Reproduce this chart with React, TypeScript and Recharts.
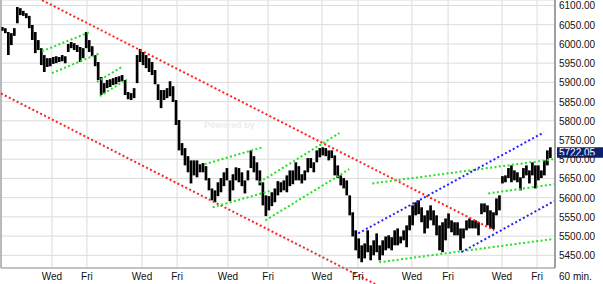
import React from 'react';
import { ComposedChart, Bar, XAxis, YAxis, CartesianGrid, ReferenceLine } from 'recharts';

// hourly bars (index = bar number), highs and lows
const highs = [6044,6041,6031,6028,6041,6096,6093,6086,6080,6073, 6049,6031,6010,5989,5971,5963,5963,5966,5968,5966, 5971,5968,6000,6005,6002,5997,5992,5989,6031,6010, 5994,5971,5953,5914,5898,5906,5908,5911,5914,5916, 5919,5906,5875,5872,5885,5971,5987,5979,5971,5963, 5953,5932,5895,5880,5880,5885,5903,5890,5854,5802, 5742,5729,5708,5697,5697,5697,5687,5690,5682,5651, 5624,5619,5640,5651,5666,5677,5645,5661,5679,5677, 5666,5645,5671,5723,5708,5692,5671,5640,5606,5604, 5614,5624,5643,5640,5645,5658,5671,5671,5692,5682, 5661,5671,5703,5703,5692,5723,5729,5731,5729,5723, 5723,5710,5684,5658,5651,5645,5606,5562,5515,5494, 5476,5481,5515,5476,5489,5507,5476,5489,5499,5502, 5497,5515,5520,5499,5515,5528,5554,5580,5588,5593, 5575,5554,5567,5580,5567,5554,5528,5536,5546,5559, 5541,5536,5536,5520,5520,5541,5546,5541,5541,5536, 5585,5585,5580,5567,5562,5598,5606,5656,5658,5677, 5684,5671,5666,5653,5677,5684,5671,5692,5684,5684, 5671,5697,5723,5731];
const lows = [6034,6028,5971,5997,6021,6054,6075,6073,6067,6041, 6010,5976,5984,5945,5927,5940,5942,5948,5950,5953, 5955,5950,5979,5989,5984,5979,5953,5963,5989,5979, 5968,5942,5906,5867,5872,5885,5888,5893,5895,5901, 5903,5867,5856,5854,5859,5898,5953,5945,5937,5927, 5919,5895,5854,5833,5854,5859,5864,5849,5789,5723, 5710,5684,5666,5637,5658,5653,5666,5666,5645,5619, 5593,5588,5604,5614,5630,5645,5591,5619,5645,5640, 5630,5611,5645,5677,5666,5645,5632,5580,5552,5567, 5578,5588,5606,5614,5619,5614,5630,5635,5645,5645, 5637,5645,5666,5677,5666,5692,5705,5710,5708,5697, 5703,5658,5651,5632,5624,5606,5554,5499,5463,5442, 5432,5442,5458,5437,5450,5458,5437,5450,5463,5468, 5463,5476,5476,5481,5489,5471,5515,5528,5554,5557, 5536,5507,5520,5541,5528,5502,5463,5458,5489,5520, 5510,5502,5502,5463,5494,5515,5520,5520,5520,5502, 5557,5562,5528,5520,5518,5554,5567,5637,5640,5651, 5640,5645,5640,5619,5651,5658,5637,5658,5624,5645, 5651,5658,5684,5703];

const xTickPos = [16.5, 28.2, 46.6, 58.3, 75.3, 88.7, 106.7, 118.7, 136.7, 148.8, 166.8, 178.5];
const xTickLabels = ['Wed', 'Fri', 'Wed', 'Fri', 'Wed', 'Fri', 'Wed', 'Fri', 'Wed', 'Fri', 'Wed', 'Fri'];
const yTicks = [5450, 5500, 5550, 5600, 5650, 5700, 5750, 5800, 5850, 5900, 5950, 6000, 6050, 6100];
const lastPrice = 5722.05;
const periodLabel = '60 min.';

// trend lines: [x1, price1, x2, price2]
const redLines = [
  [13.2, 6114, 164.2, 5515],
  [-0.5, 5871, 124.8, 5374],
];
const greenLines = [
  [13.2, 5981, 29.2, 6031],
  [16.5, 5924, 32.5, 5976],
  [31.5, 5901, 40.2, 5942],
  [32.5, 5864, 41.5, 5908],
  [67.5, 5687, 86.8, 5731],
  [70.2, 5575, 89.2, 5617],
  [85.8, 5640, 112.5, 5768],
  [87.8, 5541, 115.8, 5674],
  [123.5, 5637, 184.2, 5700],
  [162.2, 5611, 184.2, 5635],
  [125.8, 5432, 183.5, 5492],
];
const blueLines = [
  [118.8, 5507, 180.8, 5770],
  [153.2, 5458, 184.2, 5591],
];

const RED = '#ff2020';
const GREEN = '#22e022';
const BLUE = '#2222ff';
const FONT = 'Arial, "Liberation Sans", sans-serif';

const data = highs.map((h, i) => ({ i, range: [lows[i], h] }));

const seg = (s: number[], color: string, key: string) => (
  <ReferenceLine
    key={key}
    segment={[{ x: s[0], y: s[1] }, { x: s[2], y: s[3] }]}
    stroke={color}
    strokeWidth={2}
    strokeDasharray="2 2.4"
    ifOverflow="visible"
  />
);

export default function App() {
  return (
    <div style={{ position: 'absolute', left: 0, top: 0, width: 603, height: 284, background: '#fff' }}>
      <ComposedChart
        width={603}
        height={284}
        data={data}
        margin={{ top: 0, right: 0, bottom: 0, left: 1 }}
      >
        <CartesianGrid stroke="#dcdcdc" />
        <XAxis
          dataKey="i"
          type="number"
          domain={[-0.5, 184.5]}
          allowDataOverflow
          ticks={xTickPos}
          interval={0}
          height={16}
          axisLine={{ stroke: '#999' }}
          tickLine={false}
          tickSize={0}
          tickMargin={0}
          tick={(p: any) => (
            <text x={p.x} y={p.y + 12} textAnchor="middle" fontSize={10} fontFamily={FONT} fill="#111">
              {xTickLabels[xTickPos.indexOf(p.payload.value)]}
            </text>
          )}
          label={(lp: any) => {
            const vb = lp.viewBox || { x: 1, y: 268, width: 554, height: 16 };
            return (
              <text x={vb.x + vb.width + 4} y={vb.y + 12} fontSize={10} fontFamily={FONT} fill="#111">
                {periodLabel}
              </text>
            );
          }}
        />
        <YAxis
          orientation="right"
          type="number"
          domain={[5417, 6114.3]}
          allowDataOverflow
          ticks={yTicks}
          interval={0}
          width={48}
          axisLine={{ stroke: '#555' }}
          tickLine={false}
          tickSize={0}
          tickMargin={4}
          tick={(p: any) => (
            <text x={p.x} y={p.y + 4} textAnchor="start" fontSize={10} fontFamily={FONT} fill="#111">
              {Number(p.payload.value).toFixed(2)}
            </text>
          )}
        />
        <ReferenceLine x={-0.5} stroke="#888" ifOverflow="visible" />
        <Bar dataKey="range" fill="#000" barSize={3} isAnimationActive={false} />
        {redLines.map((s, k) => seg(s, RED, 'r' + k))}
        {greenLines.map((s, k) => seg(s, GREEN, 'g' + k))}
        {blueLines.map((s, k) => seg(s, BLUE, 'b' + k))}
        <ReferenceLine
          y={lastPrice}
          stroke="none"
          label={(lp: any) => {
            const vb = lp.viewBox;
            const x0 = vb.x + vb.width + 2;
            return (
              <g>
                <rect x={x0} y={vb.y - 3.5} width={46} height={10.5} fill="#0c1f70" />
                <text x={x0 + 2} y={vb.y + 5} fontSize={10} fontFamily={FONT} fill="#fff">
                  {lastPrice.toFixed(2)}
                </text>
              </g>
            );
          }}
        />
      </ComposedChart>
      <div
        style={{
          position: 'absolute',
          left: 204,
          top: 120,
          fontSize: 9,
          lineHeight: '10px',
          fontWeight: 'bold',
          color: '#ececec',
          fontFamily: FONT,
          pointerEvents: 'none',
        }}
      >
        Powered by
      </div>
    </div>
  );
}
